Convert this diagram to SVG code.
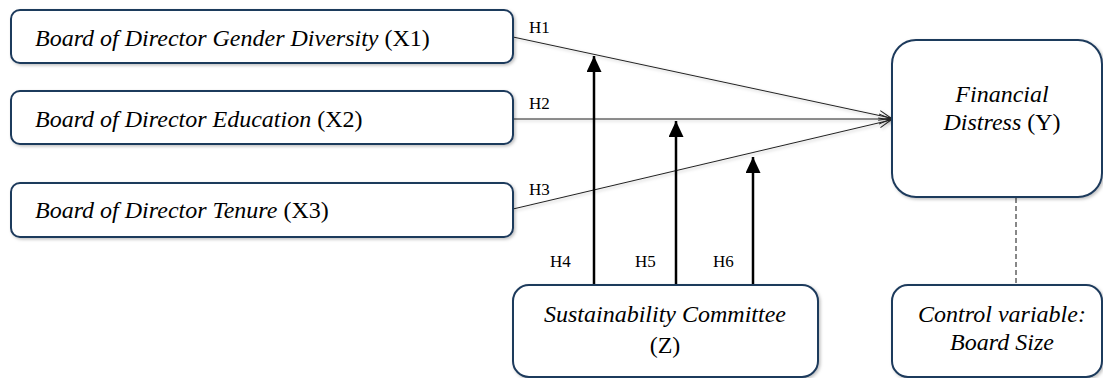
<svg xmlns="http://www.w3.org/2000/svg" width="1103" height="378" viewBox="0 0 1103 378">
<style>
.box{fill:#fff;stroke:#1F3A5C;stroke-width:2;filter:url(#sh)}
.t{font-size:24px;fill:#000}
.i{font-style:italic}
.h{font-size:17px;fill:#000}
.thin{stroke:#222;stroke-width:1;fill:none}
.thick{stroke:#000;stroke-width:2.5;fill:none}
</style>
<defs>
<filter id="sh" filterUnits="userSpaceOnUse" x="0" y="0" width="1103" height="378">
<feDropShadow dx="1.5" dy="1.5" stdDeviation="1.5" flood-color="#000" flood-opacity="0.25"/>
</filter>
<marker id="open" markerWidth="14" markerHeight="12" refX="13" refY="6" orient="auto" markerUnits="userSpaceOnUse">
<path d="M1,1 L13,6 L1,11" fill="none" stroke="#222" stroke-width="1"/>
</marker>
<marker id="solid" markerWidth="16" markerHeight="16" refX="16" refY="7.5" orient="auto" markerUnits="userSpaceOnUse">
<path d="M0,0 L16,7.5 L0,15 Z" fill="#000"/>
</marker>
</defs>

<g id="connectors" font-family="'Liberation Serif', 'Times New Roman', serif">
<line class="thin" x1="513" y1="37" x2="891" y2="118" marker-end="url(#open)" filter="url(#sh)"/>
<line class="thin" x1="513" y1="119" x2="891" y2="119" marker-end="url(#open)" filter="url(#sh)"/>
<line class="thin" x1="513" y1="209" x2="891" y2="120" marker-end="url(#open)" filter="url(#sh)"/>
<line class="thick" x1="594" y1="285" x2="594" y2="56" marker-end="url(#solid)"/>
<line class="thick" x1="676" y1="285" x2="676" y2="121" marker-end="url(#solid)"/>
<line class="thick" x1="753" y1="285" x2="753" y2="157" marker-end="url(#solid)"/>
<line x1="1016" y1="198" x2="1016" y2="285" stroke="#111" stroke-width="1" stroke-dasharray="5,3"/>
<text class="h" x="529" y="33">H1</text>
<text class="h" x="529" y="109">H2</text>
<text class="h" x="529" y="195">H3</text>
<text class="h" x="550" y="267">H4</text>
<text class="h" x="635" y="267">H5</text>
<text class="h" x="713" y="267">H6</text>
</g>

<g id="nodes" font-family="'Liberation Serif', 'Times New Roman', serif">
<g id="x1">
<rect class="box" x="11" y="10" width="502" height="53" rx="9"/>
<text class="t" x="35" y="46"><tspan class="i">Board of Director Gender Diversity</tspan> (X1)</text>
</g>
<g id="x2">
<rect class="box" x="11" y="91" width="502" height="53" rx="9"/>
<text class="t" x="35" y="127"><tspan class="i">Board of Director Education</tspan> (X2)</text>
</g>
<g id="x3">
<rect class="box" x="11" y="183" width="502" height="54" rx="9"/>
<text class="t" x="35" y="218"><tspan class="i">Board of Director Tenure</tspan> (X3)</text>
</g>
<g id="y">
<rect class="box" x="892" y="40" width="210" height="157" rx="24"/>
<text class="t i" x="1002" y="102" text-anchor="middle">Financial</text>
<text class="t" x="1002" y="130" text-anchor="middle"><tspan class="i">Distress</tspan> (Y)</text>
</g>
<g id="z">
<rect class="box" x="513" y="285" width="305" height="92" rx="16"/>
<text class="t i" x="665" y="322" text-anchor="middle">Sustainability Committee</text>
<text class="t" x="665" y="353" text-anchor="middle">(Z)</text>
</g>
<g id="control">
<rect class="box" x="892" y="285" width="210" height="92" rx="16"/>
<text class="t i" x="1002" y="322" text-anchor="middle">Control variable:</text>
<text class="t i" x="1002" y="350" text-anchor="middle">Board Size</text>
</g>
</g>
</svg>
